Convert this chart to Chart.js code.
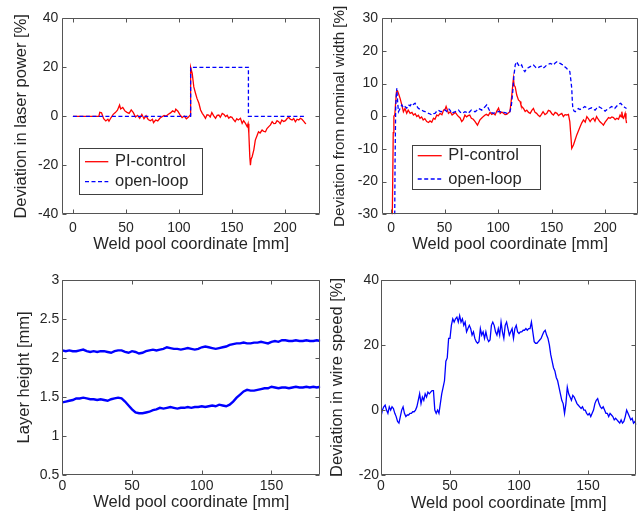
<!DOCTYPE html>
<html>
<head>
<meta charset="utf-8">
<script src="https://cdn.jsdelivr.net/npm/chart.js@4.4.0/dist/chart.umd.min.js"></script>
<style>
  html, body { margin: 0; padding: 0; background: #fff; }
  #wrap { position: relative; width: 641px; height: 514px; }
  #wrap canvas { position: absolute; left: 0; top: 0; }
</style>
</head>
<body>
<div id="wrap">
  <canvas id="c-laser" width="641" height="514"></canvas>
  <canvas id="c-width" width="641" height="514"></canvas>
  <canvas id="c-height" width="641" height="514"></canvas>
  <canvas id="c-wire" width="641" height="514"></canvas>
</div>
<script>
// ── Datos ────────────────────────────────────────────────────────────────────
// Potencia láser (arriba izquierda)
const laserPIx = [0, 24.5, 25.3, 27, 28, 29, 31, 33, 34, 36, 38, 40, 42, 44, 45, 47, 49, 51, 53, 55, 57, 59, 61, 63, 65, 67, 69, 71, 73, 75, 76, 78, 80, 82, 84, 86, 88, 90, 92, 94, 96, 97, 99, 101, 103, 105, 107, 109, 110.5,
  111, 112.5, 114, 115.6, 117, 118.8, 120.4, 122, 123.5, 125, 126.5, 128, 129.5, 131, 132.8, 134.5, 136, 137.6, 139, 140.8, 142.5, 144, 145.5, 147, 148.5, 150, 151.5, 153, 154.5, 156, 158, 159.6, 161, 162.7, 164.3, 165.2,
  165.9, 166.8, 167.4, 168, 169, 170.6, 172, 173.5, 175, 176.5, 178.4, 180, 181.6, 183, 184.7, 186.3, 187.9, 189.5, 191, 192.5, 194, 195.5, 197, 198.8, 200.4, 202, 203.5, 205, 206.7, 208.2, 209.8, 211.4, 213, 214.5, 216, 217.5, 219.2, 219.9];
const laserPIy = [0, 0, 1.6, 1.4, 0.2, -1, -1.9, -1.2, -2, -0.5, 0.8, 1.5, 2.5, 4.6, 3, 3.6, 2.2, 1.6, 1.2, 2.6, 1.5, -0.3, 0.4, -0.8, 0.8, -1, 0.2, -1.3, -1.8, -1.2, -2.6, -1.5, -1.9, -0.8, -0.2, 0.3, 0.1, 0.8, 1.4, 2.2, 1.7, 2.9, 2.1, 0.6, -0.5, 0.1, -1, -0.3, 0.5,
  20, 17.5, 12, 9.4, 7.3, 5.3, 2.6, 1.2, 0.3, -0.8, 0.6, 0.5, -0.3, 1.5, 0.2, -0.8, 0.4, 0.5, -0.4, 1.2, 0.7, -0.1, 0.4, -0.8, -0.2, -0.4, -1.4, -2.2, -1, -1.5, -0.8, -2.9, -1.8, -2.9, -4.2, -3,
  -7, -16.5, -20, -17.5, -16.5, -13.7, -9.7, -8, -6.3, -6.8, -5.6, -6.2, -6.3, -5, -4.2, -3.5, -2.2, -3, -2.9, -1.8, -2.2, -3, -1.5, -2.1, -1.8, -0.9, -0.4, -1.2, -1.5, -0.9, -2.2, -1.2, -1.5, -0.8, -1.2, -2, -2.9, -3];
const laserOLx = [0, 111, 111, 165.5, 165.5, 220];
const laserOLy = [0, 0, 20, 20, 0, 0];

// Ancho del cordón (arriba derecha)
const widthPIx = [0.8, 1.5, 2, 2.6, 3.5, 4.2, 5, 6, 6.9, 8.4, 10, 11.5, 13, 14.6, 16, 17.8, 19.5, 20.9, 22.5, 24, 25.5, 27, 28.5, 30, 31.5, 33.3, 35, 36.4, 38, 39.6, 41, 42.7, 44, 45.8, 47.5, 49, 50.5, 51.4, 52.5, 53.6, 55.3, 57, 58.5, 60, 61.5, 63, 64.5, 66, 67.5, 69, 70.5, 72, 73.5, 75, 76.8, 78.5, 80.7, 82, 83, 84.5, 86, 87.5, 89, 90.8, 92.5, 94, 95.6, 97.2, 98.8, 100.4, 102, 103.5, 105, 106.5, 108, 109.5, 111,
  112, 112.8, 114.3, 115, 116, 117.4, 119, 120.6, 121.3, 122, 123.7, 125.3, 126.8, 128.4, 130, 131.5, 133, 134.5, 136, 137.5, 139, 140.5, 142, 143.8, 145.5, 147, 148.6, 150.2, 151.7, 153.3, 155, 156.5, 158, 159.5, 161, 162.5, 164, 165.7,
  167, 168, 168.8, 170.4, 172, 173.5, 175, 176.6, 178.2, 179.8, 181.4, 182.9, 184.5, 186, 187.5, 189, 190.5, 192, 193.5, 195, 196.7, 198.4, 200, 201.6, 203.2, 204.7, 206.3, 207.8, 209.4, 211, 212.5, 214, 215, 215.6, 216.5, 217.2, 218.7, 219.5, 220];
const widthPIy = [-40, -20, -5, 0, 0.5, 4, 7.5, 7.8, 7, 5.5, 3.5, 1.4, 2.4, 0.9, 1.9, 0.9, 1.2, 0.4, 0.8, -0.1, 0.3, -0.6, -0.2, -1.1, -0.7, -1.6, -1.9, -1.4, -1.8, -0.6, -0.9, 0.4, 0.1, 0.9, 0.5, 1.9, 2.2, 3, 2, 0.9, 1.4, 0.4, 0.8, 1.2, 0.5, -0.1, -0.5, -1.6, -1, 0.4, -0.2, 0.2, 0.4, -0.6, -0.9, -1.6, -2.7, -1.8, -1.1, -0.6, -0.1, 0.3, 0.6, 0.2, 1.2, 0.6, 0.9, 0.4, 1.6, 2.5, 0.9, 1.3, 0.9, 0.5, 0.6, 1, 1.4,
  4, 6.5, 11.6, 9.5, 9, 6.5, 5, 4.5, 3.5, 3, 2.4, 1.5, 1.9, 1.2, 0.9, 1.8, 2.4, 1.2, 0.9, 0.3, -0.1, 0.6, 1.4, 0.5, 0.9, 1.8, 1.6, 0.8, 0.4, 1.2, 0.9, 0.2, 0.6, 0.9, -0.1, 0.5, 0.4, 0.6,
  -1.6, -6, -9.8, -8.8, -7.2, -5.7, -4.5, -3.2, -2, -1.1, -1.8, -0.1, -0.8, -1.6, -0.9, -0.6, -1.5, -0.1, -0.9, -1.6, -2.1, -2.7, -1.8, -1.1, -0.4, -0.6, -0.2, -0.4, -1, -0.6, -0.9, 0.4, -0.2, 1.4, -0.4, -0.6, 0.9, -1, -2.1];
const widthOLx = [3.2, 3.7, 4.3, 5.3, 6.2, 6.9, 8.4, 10, 11.5, 13, 14.6, 16.2, 17.8, 19.3, 20.9, 22.4, 24, 25.5, 27, 28.7, 30.2, 31.8, 33.4, 35, 36.5, 38, 39.6, 41, 42.5, 44, 45.5, 47, 48.8, 50.5, 52, 53.6, 55.2, 56.7, 58.3, 60, 61.5, 63, 64.5, 66, 67.5, 69, 70.5, 72, 73.5, 75, 76.8, 78.5, 80, 81.6, 83, 84.7, 86.3, 88, 89.4, 91, 92.5, 94, 95.6, 97.2, 98.8, 100.4, 102, 103.5, 105, 106.5, 108, 109.5, 111,
  112.3, 113.7, 114.8, 116, 117.4, 119, 120.6, 122, 123.7, 125, 126.8, 128.4, 130, 131.5, 133, 134.5, 136, 137.5, 139, 140.5, 142, 143.8, 145.5, 147, 148.6, 150.2, 151.7, 153.3, 155, 156.5, 158, 159.5, 161, 162.5, 164, 165.5, 167,
  168, 168.8, 169.3, 169.8, 171, 172, 173.5, 175, 176.5, 178, 179.5, 181, 182.7, 184.4, 186, 187.5, 189, 190.6, 192.2, 193.8, 195.4, 197, 198.5, 200, 201.5, 203, 204.5, 206, 207.5, 209, 210.5, 212, 213.3, 214.6, 216, 217, 218.5, 220];
const widthOLy = [-40, -14, 3, 8.6, 4, 1.4, 2.4, 3.5, 2.6, 3, 2.5, 3.5, 3.2, 4, 3.6, 4, 3.1, 2.4, 2.2, 1.9, 1.6, 1.4, 1.2, 0.9, 0.7, 0.4, 0.8, 0.9, 1.5, 1.9, 1.6, 1.4, 1.7, 1.9, 1.5, 2.4, 1.8, 0.9, 1.2, 1.4, 1.6, 1.9, 1.3, 0.9, 1.1, 1.4, 1.2, 0.9, 1.4, 1.9, 1.6, 1.4, 1.8, 2.4, 2.2, 1.9, 2.5, 3, 3.5, 2.4, 1.4, 1.1, 0.9, 1.1, 1.2, 1.5, 1.4, 1.1, 1.2, 1.1, 0.9, 1.2, 1.4,
  3, 7.6, 12.5, 15.7, 16.7, 15.7, 15.2, 15.7, 14.2, 13.7, 14.7, 14.9, 15.2, 15.6, 15.7, 15.2, 14.7, 14.9, 15.2, 15.3, 14.7, 15.2, 15.7, 15.9, 16.2, 16, 15.7, 16.3, 16.7, 16.4, 16.2, 15.9, 15.7, 15.1, 14.7, 14.1, 13.7,
  11, 8.6, 5, 2.4, 1.6, 1.4, 1.9, 2.4, 2.1, 2.2, 2.6, 3, 2.6, 2.2, 2.4, 2.6, 2.2, 1.9, 2.5, 3, 2.7, 2.4, 2, 1.6, 2, 2.4, 2.6, 3, 2.7, 2.4, 3, 3.5, 3.8, 4, 3.4, 3, 2.7, 2.4];

// Altura de capa (abajo izquierda), muestras cada 2.5 mm
const heightStep = 2.5;
const heightUpper = [2.095, 2.085, 2.095, 2.085, 2.085, 2.095, 2.105, 2.085, 2.075, 2.085, 2.075, 2.085, 2.085, 2.075, 2.065, 2.085, 2.095, 2.095, 2.075, 2.065,
  2.085, 2.075, 2.055, 2.065, 2.085, 2.095, 2.105, 2.095, 2.105, 2.115, 2.135, 2.125, 2.115, 2.115, 2.105, 2.115, 2.125, 2.115, 2.105, 2.115,
  2.135, 2.145, 2.135, 2.125, 2.115, 2.125, 2.135, 2.145, 2.165, 2.175, 2.185, 2.185, 2.195, 2.185, 2.185, 2.195, 2.195, 2.205, 2.195, 2.185,
  2.205, 2.215, 2.205, 2.225, 2.225, 2.215, 2.215, 2.225, 2.215, 2.215, 2.225, 2.215, 2.215, 2.225, 2.215];
const heightLower = [1.43, 1.44, 1.45, 1.46, 1.48, 1.48, 1.49, 1.48, 1.47, 1.47, 1.46, 1.47, 1.46, 1.45, 1.47, 1.48, 1.49, 1.48, 1.44, 1.39,
  1.34, 1.30, 1.29, 1.29, 1.30, 1.31, 1.33, 1.34, 1.36, 1.35, 1.36, 1.37, 1.36, 1.35, 1.36, 1.36, 1.37, 1.36, 1.37, 1.37,
  1.38, 1.37, 1.38, 1.39, 1.38, 1.40, 1.39, 1.38, 1.40, 1.44, 1.49, 1.53, 1.57, 1.59, 1.58, 1.58, 1.59, 1.60, 1.61, 1.61,
  1.63, 1.62, 1.61, 1.62, 1.62, 1.61, 1.62, 1.63, 1.62, 1.62, 1.63, 1.62, 1.63, 1.62, 1.63];

// Velocidad del alambre (abajo derecha), muestras cada 1 mm
const wireStep = 1;
const wireDev = [
  -2, 0, 1, 1.5, 0, -1, 1, 0, 1, 0.5,
  -1, -2, -3.5, -4, -2, 0, 1, -1, -2, -1.5,
  -1.5, -1, -1, -0.5, -0.5, 0, 1, 3, 5, 2,
  4, 3, 5, 4, 5.5, 5, 5.5, 6, 6, 0,
  -1, 0, -1, 2, 5, 7, 9, 15, 16, 22,
  22, 26, 28, 27, 28, 28.5, 27, 29, 27, 28,
  26, 27, 24, 25, 26, 25, 23, 24, 22, 21,
  20.5, 21, 25, 23, 24, 22, 24, 22, 21, 21.5,
  26, 27, 26, 24, 23, 25, 23, 27, 24, 22,
  26, 27, 25, 23, 24, 25, 22, 25, 26, 24,
  23.5, 24, 24, 24.5, 24.5, 25, 24.5, 25, 25, 27,
  24, 21, 20.5, 20.5, 21, 21.5, 22, 23, 24, 24.5,
  23, 22, 20, 17, 15, 13, 12, 10, 9, 7,
  5, 3, 2, -1, 2, 7, 5, 4, 3, 4.5,
  4, 3, 2, 1.5, 1, 0.5, 1, 0, 0, -1,
  -1.5, -1, -2, -1, 0, 2, 3, 3.5, 2, 1,
  0.5, 1, 0, -1, -1, -2, -1, -1.5, -2, -3,
  -2.5, -3, -3.5, -4, -3, -4, -3.5, -2, 0, -1,
  -2, -3, -2.5, -4, -3.5, -4.5];

// Ticks
const xTicksTop = [0, 50, 100, 150, 200];
const xTicksBottom = [0, 50, 100, 150];
const yTicksLaser = [-40, -20, 0, 20, 40];
const yTicksWidth = [-30, -20, -10, 0, 10, 20, 30];
const yTicksHeight = [0.5, 1, 1.5, 2, 2.5, 3];
const yTicksWire = [-20, 0, 20, 40];

// ── Estilo ───────────────────────────────────────────────────────────────────
const FONT = "'Liberation Sans', Arial, sans-serif";
const TEXT = '#262626';
const FRAME = '#555555';
const RED = '#ff0000';
const BLUE = '#0000ff';
const Y_W = 55;   // ancho fijo del eje y

const pts = (xs, ys) => ys.map((y, i) => ({ x: xs[i], y }));
const stepPts = (step, ys) => ys.map((y, i) => ({ x: i * step, y }));

// Marco tipo MATLAB con ticks hacia adentro en los 4 lados
const framePlugin = {
  id: 'frame',
  afterDatasetsDraw(chart) {
    const { ctx, chartArea: a, scales } = chart;
    const L = Math.round(a.left) + 0.5, R = Math.round(a.right) - 0.5;
    const T = Math.round(a.top) + 0.5, B = Math.round(a.bottom) - 0.5;
    ctx.save();
    ctx.strokeStyle = FRAME;
    ctx.lineWidth = 1;
    ctx.beginPath();
    ctx.rect(L, T, R - L, B - T);
    scales.x.ticks.forEach(t => {
      const px = Math.round(scales.x.getPixelForValue(t.value)) + 0.5;
      ctx.moveTo(px, B); ctx.lineTo(px, B - 4);
      ctx.moveTo(px, T); ctx.lineTo(px, T + 4);
    });
    scales.y.ticks.forEach(t => {
      const py = Math.round(scales.y.getPixelForValue(t.value)) + 0.5;
      ctx.moveTo(L, py); ctx.lineTo(L + 4, py);
      ctx.moveTo(R, py); ctx.lineTo(R - 4, py);
    });
    ctx.stroke();
    ctx.restore();
  },
};

// Leyenda dentro del área (posición en px de la página)
const boxLegendPlugin = {
  id: 'boxLegend',
  afterDraw(chart, args, opts) {
    if (!opts.box) return;
    const { ctx } = chart;
    const [x0, y0, x1, y1] = opts.box;
    ctx.save();
    ctx.fillStyle = '#fff';
    ctx.fillRect(x0, y0, x1 - x0, y1 - y0);
    ctx.strokeStyle = '#404040';
    ctx.lineWidth = 1;
    ctx.strokeRect(Math.round(x0) + 0.5, Math.round(y0) + 0.5, Math.round(x1 - x0), Math.round(y1 - y0));
    ctx.font = '16.5px ' + FONT;
    ctx.textBaseline = 'middle';
    ctx.fillStyle = TEXT;
    opts.items.forEach(it => {
      ctx.beginPath();
      ctx.strokeStyle = it.color;
      ctx.lineWidth = 1.3;
      ctx.setLineDash(it.dash || []);
      ctx.moveTo(opts.lineX[0], it.y);
      ctx.lineTo(opts.lineX[1], it.y);
      ctx.stroke();
      ctx.setLineDash([]);
      ctx.fillText(it.label, opts.textX, it.y);
    });
    ctx.restore();
  },
};

function makePanel(id, p) {
  const area = p.area; // [left, top, right, bottom]
  return new Chart(document.getElementById(id), {
    type: 'line',
    data: { datasets: p.datasets },
    plugins: [framePlugin, boxLegendPlugin],
    options: {
      responsive: false,
      animation: false,
      events: [],
      layout: { padding: { left: area[0] - Y_W, top: area[1], right: 641 - area[2], bottom: 514 - area[3] - p.xH } },
      elements: { point: { radius: 0 }, line: { tension: 0 } },
      plugins: { legend: { display: false }, tooltip: { enabled: false }, boxLegend: p.legend || {} },
      scales: {
        x: {
          type: 'linear', min: p.xMin, max: p.xMax,
          afterFit: s => { s.height = p.xH; },
          afterBuildTicks: s => { s.ticks = p.xTicks.map(v => ({ value: v })); },
          grid: { display: false, drawTicks: false },
          border: { display: false },
          ticks: { color: TEXT, font: { size: 14, family: FONT }, padding: p.xTickPad, maxRotation: 0, autoSkip: false, callback: v => String(v) },
          title: { display: true, text: 'Weld pool coordinate [mm]', color: TEXT, font: { size: 16.5, family: FONT }, padding: { top: 0, bottom: p.xTitlePad } },
        },
        y: {
          type: 'linear', min: p.yMin, max: p.yMax,
          afterFit: s => { s.width = Y_W; },
          afterBuildTicks: s => { s.ticks = p.yTicks.map(v => ({ value: v })); },
          grid: { display: false, drawTicks: false },
          border: { display: false },
          ticks: { color: TEXT, font: { size: 14, family: FONT }, padding: p.yTickPad, autoSkip: false, callback: v => String(v) },
          title: { display: true, text: p.yTitle, color: TEXT, font: { size: p.yTitleSize || 16.5, family: FONT }, padding: { top: p.yTitlePad, bottom: 0 } },
        },
      },
    },
  });
}

const lineDs = (data, color, dash, width) => ({
  data, borderColor: color, borderWidth: width || 1.3, borderDash: dash || [], fill: false, pointRadius: 0,
});

makePanel('c-laser', {
  area: [62.3, 18.3, 320, 214.3], xH: 45,
  xMin: -10, xMax: 233, xTicks: xTicksTop, xTickPad: 5, xTitlePad: 5.4,
  yMin: -40, yMax: 40, yTicks: yTicksLaser, yTickPad: 4, yTitle: 'Deviation in laser power [%]', yTitlePad: 3.8,
  datasets: [
    lineDs(pts(laserOLx, laserOLy), BLUE, [4, 2.5]),
    lineDs(pts(laserPIx, laserPIy), RED),
  ],
  legend: {
    box: [79.3, 147.7, 202.3, 193.3], lineX: [85, 108.3], textX: 115,
    items: [
      { label: 'PI-control', color: RED, y: 161.7 },
      { label: 'open-loop', color: BLUE, dash: [4, 2.5], y: 181.7 },
    ],
  },
});

makePanel('c-width', {
  area: [382, 18.3, 638.3, 214.3], xH: 45,
  xMin: -8.5, xMax: 231, xTicks: xTicksTop, xTickPad: 5, xTitlePad: 5.4,
  yMin: -30, yMax: 30, yTicks: yTicksWidth, yTickPad: 4, yTitle: 'Deviation from nominal width [%]', yTitleSize: 15.2, yTitlePad: 4,
  datasets: [
    lineDs(pts(widthOLx, widthOLy), BLUE, [4, 2.5]),
    lineDs(pts(widthPIx, widthPIy), RED),
  ],
  legend: {
    box: [412.3, 145, 540, 189], lineX: [417.7, 441.7], textX: 448.3,
    items: [
      { label: 'PI-control', color: RED, y: 155.7 },
      { label: 'open-loop', color: BLUE, dash: [4, 2.5], y: 179 },
    ],
  },
});

makePanel('c-height', {
  area: [62.3, 279.7, 320.3, 475], xH: 38,
  xMin: 0, xMax: 185, xTicks: xTicksBottom, xTickPad: 2.3, xTitlePad: 0.2,
  yMin: 0.5, yMax: 3, yTicks: yTicksHeight, yTickPad: 3, yTitle: 'Layer height [mm]', yTitlePad: 6.8,
  datasets: [
    lineDs(stepPts(heightStep, heightUpper), BLUE, null, 2.4),
    lineDs(stepPts(heightStep, heightLower), BLUE, null, 2.4),
  ],
});

makePanel('c-wire', {
  area: [381, 279.7, 636.3, 475.3], xH: 38,
  xMin: 0, xMax: 185, xTicks: xTicksBottom, xTickPad: 2.3, xTitlePad: 0.2,
  yMin: -20, yMax: 40, yTicks: yTicksWire, yTickPad: 2, yTitle: 'Deviation in wire speed [%]', yTitlePad: 1.1,
  datasets: [
    lineDs(stepPts(wireStep, wireDev), BLUE, null, 1.3),
  ],
});
</script>
</body>
</html>
